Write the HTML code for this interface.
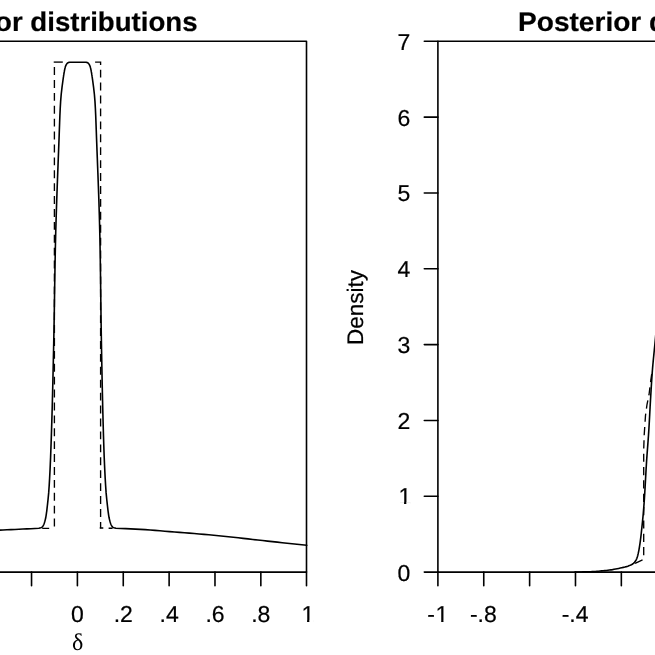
<!DOCTYPE html>
<html>
<head>
<meta charset="utf-8">
<title>Prior and posterior distributions</title>
<style>
html, body { margin: 0; padding: 0; background: #fff; }
body { width: 655px; height: 655px; overflow: hidden; font-family: "Liberation Sans", sans-serif; }
svg { display: block; filter: grayscale(1); text-rendering: geometricPrecision; }
</style>
</head>
<body>
<svg width="655" height="655" viewBox="0 0 655 655">
<rect x="0" y="0" width="655" height="655" fill="#fff"/>
<g fill="none" stroke="#000" stroke-width="1.60" stroke-linecap="round" stroke-linejoin="round">
<path d="M-5,41.30 H306.50 V572.10 H-5"/>
<path d="M31.54,572.10 V585.70"/>
<path d="M77.40,572.10 V585.70"/>
<path d="M123.26,572.10 V585.70"/>
<path d="M169.12,572.10 V585.70"/>
<path d="M214.98,572.10 V585.70"/>
<path d="M260.84,572.10 V585.70"/>
<path d="M306.50,572.10 V585.70"/>
<path d="M660,41.30 H437.90 V572.10 H660"/>
<path d="M424.30,572.10 H437.90"/>
<path d="M424.30,496.27 H437.90"/>
<path d="M424.30,420.44 H437.90"/>
<path d="M424.30,344.61 H437.90"/>
<path d="M424.30,268.79 H437.90"/>
<path d="M424.30,192.96 H437.90"/>
<path d="M424.30,117.13 H437.90"/>
<path d="M424.30,41.30 H437.90"/>
<path d="M437.90,572.10 V585.70"/>
<path d="M483.76,572.10 V585.70"/>
<path d="M529.62,572.10 V585.70"/>
<path d="M575.48,572.10 V585.70"/>
<path d="M621.34,572.10 V585.70"/>
</g>
<g fill="none" stroke="#000" stroke-width="1.60" stroke-linejoin="round" stroke-linecap="round">
<path d="M-5.00,530.30 L-1.01,530.13 L2.98,529.96 L6.97,529.79 L10.96,529.61 L14.95,529.43 L18.95,529.25 L22.94,529.06 L26.93,528.88 L30.92,528.69 L34.91,528.50 L38.90,528.30 L38.90,528.30 L40.80,527.82 L41.72,527.34 L42.32,526.86 L42.74,526.38 L43.07,525.90 L43.35,525.42 L43.59,524.94 L43.80,524.46 L43.99,523.98 L44.16,523.50 L44.33,523.02 L44.48,522.54 L44.63,522.06 L44.78,521.58 L44.91,521.11 L45.04,520.63 L45.17,520.15 L45.29,519.67 L45.40,519.19 L45.51,518.71 L45.61,518.23 L45.70,517.75 L45.80,517.27 L45.88,516.79 L45.97,516.31 L46.05,515.83 L46.13,515.35 L46.20,514.87 L46.28,514.39 L46.35,513.91 L46.42,513.43 L46.48,512.95 L46.55,512.47 L46.61,511.99 L46.68,511.51 L46.74,511.03 L46.80,510.55 L46.85,510.07 L46.91,509.59 L46.97,509.11 L47.02,508.63 L47.08,508.15 L47.13,507.67 L47.19,507.19 L47.24,506.72 L47.29,506.24 L47.35,505.76 L47.40,505.28 L47.46,504.80 L47.51,504.32 L47.57,503.84 L47.62,503.36 L47.67,502.88 L47.73,502.40 L47.78,501.92 L47.83,501.44 L47.89,500.96 L47.94,500.48 L47.99,500.00 L48.68,492.88 L49.17,485.76 L49.59,478.64 L49.96,471.53 L50.29,464.41 L50.59,457.29 L50.85,450.17 L51.11,443.05 L51.35,435.93 L51.58,428.81 L51.80,421.69 L52.01,414.58 L52.21,407.46 L52.40,400.34 L52.58,393.22 L52.76,386.10 L52.93,378.98 L53.09,371.86 L53.25,364.75 L53.40,357.63 L53.56,350.51 L53.71,343.39 L53.85,336.27 L53.99,329.15 L54.12,322.03 L54.24,314.92 L54.35,307.80 L54.46,300.68 L54.57,293.56 L54.68,286.44 L54.79,279.32 L54.91,272.20 L55.03,265.08 L55.16,257.97 L55.30,250.85 L55.45,243.73 L55.62,236.61 L55.80,229.49 L56.01,222.37 L56.23,215.25 L56.46,208.14 L56.71,201.02 L56.95,193.90 L57.21,186.78 L57.47,179.66 L57.74,172.54 L58.02,165.42 L58.29,158.31 L58.57,151.19 L58.84,144.07 L59.11,136.95 L59.36,129.83 L59.62,122.71 L59.89,115.59 L60.22,108.47 L60.63,101.36 L61.22,94.24 L62.04,87.12 L63.00,80.00 L63.04,79.70 L63.08,79.40 L63.12,79.10 L63.17,78.80 L63.21,78.50 L63.25,78.20 L63.29,77.90 L63.33,77.60 L63.38,77.30 L63.42,77.00 L63.46,76.70 L63.51,76.40 L63.55,76.10 L63.60,75.80 L63.64,75.50 L63.69,75.20 L63.74,74.90 L63.78,74.60 L63.83,74.30 L63.88,74.00 L63.93,73.70 L63.98,73.40 L64.03,73.10 L64.08,72.80 L64.13,72.50 L64.18,72.20 L64.24,71.90 L64.29,71.60 L64.35,71.30 L64.40,71.00 L64.46,70.70 L64.52,70.40 L64.58,70.10 L64.64,69.80 L64.70,69.50 L64.76,69.20 L64.82,68.90 L64.89,68.60 L64.95,68.30 L65.03,68.00 L65.10,67.70 L65.18,67.40 L65.27,67.10 L65.36,66.80 L65.46,66.50 L65.57,66.20 L65.69,65.90 L65.82,65.60 L65.95,65.30 L66.10,65.00 L66.26,64.70 L66.43,64.40 L66.63,64.10 L66.85,63.80 L67.10,63.50 L67.36,63.20 L67.69,62.90 L68.20,62.60 L69.50,62.30 L86.10,62.30 L87.40,62.60 L87.91,62.90 L88.24,63.20 L88.50,63.50 L88.75,63.80 L88.97,64.10 L89.17,64.40 L89.34,64.70 L89.50,65.00 L89.65,65.30 L89.78,65.60 L89.91,65.90 L90.03,66.20 L90.14,66.50 L90.24,66.80 L90.33,67.10 L90.42,67.40 L90.50,67.70 L90.57,68.00 L90.65,68.30 L90.71,68.60 L90.78,68.90 L90.84,69.20 L90.90,69.50 L90.96,69.80 L91.02,70.10 L91.08,70.40 L91.14,70.70 L91.20,71.00 L91.25,71.30 L91.31,71.60 L91.36,71.90 L91.42,72.20 L91.47,72.50 L91.52,72.80 L91.57,73.10 L91.62,73.40 L91.67,73.70 L91.72,74.00 L91.77,74.30 L91.82,74.60 L91.86,74.90 L91.91,75.20 L91.96,75.50 L92.00,75.80 L92.05,76.10 L92.09,76.40 L92.14,76.70 L92.18,77.00 L92.22,77.30 L92.27,77.60 L92.31,77.90 L92.35,78.20 L92.39,78.50 L92.43,78.80 L92.48,79.10 L92.52,79.40 L92.56,79.70 L92.60,80.00 L93.56,87.12 L94.38,94.24 L94.97,101.36 L95.38,108.47 L95.71,115.59 L95.98,122.71 L96.24,129.83 L96.49,136.95 L96.76,144.07 L97.03,151.19 L97.31,158.31 L97.58,165.42 L97.86,172.54 L98.13,179.66 L98.39,186.78 L98.65,193.90 L98.89,201.02 L99.11,208.14 L99.33,215.25 L99.52,222.37 L99.70,229.49 L99.87,236.61 L100.01,243.73 L100.14,250.85 L100.26,257.97 L100.36,265.08 L100.46,272.20 L100.56,279.32 L100.64,286.44 L100.73,293.56 L100.82,300.68 L100.91,307.80 L101.00,314.92 L101.09,322.03 L101.20,329.15 L101.31,336.27 L101.44,343.39 L101.56,350.51 L101.69,357.63 L101.82,364.75 L101.96,371.86 L102.10,378.98 L102.24,386.10 L102.40,393.22 L102.56,400.34 L102.72,407.46 L102.90,414.58 L103.09,421.69 L103.28,428.81 L103.49,435.93 L103.71,443.05 L103.95,450.17 L104.21,457.29 L104.51,464.41 L104.84,471.53 L105.21,478.64 L105.63,485.76 L106.12,492.88 L106.81,500.00 L106.86,500.48 L106.91,500.96 L106.97,501.44 L107.02,501.92 L107.07,502.40 L107.13,502.88 L107.18,503.36 L107.23,503.84 L107.29,504.32 L107.34,504.80 L107.40,505.28 L107.45,505.76 L107.51,506.24 L107.56,506.72 L107.61,507.19 L107.67,507.67 L107.72,508.15 L107.78,508.63 L107.83,509.11 L107.89,509.59 L107.95,510.07 L108.00,510.55 L108.06,511.03 L108.12,511.51 L108.19,511.99 L108.25,512.47 L108.32,512.95 L108.38,513.43 L108.45,513.91 L108.52,514.39 L108.60,514.87 L108.67,515.35 L108.75,515.83 L108.83,516.31 L108.92,516.79 L109.00,517.27 L109.10,517.75 L109.19,518.23 L109.29,518.71 L109.40,519.19 L109.51,519.67 L109.63,520.15 L109.76,520.63 L109.89,521.11 L110.02,521.58 L110.17,522.06 L110.32,522.54 L110.47,523.02 L110.64,523.50 L110.81,523.98 L111.00,524.46 L111.21,524.94 L111.45,525.42 L111.73,525.90 L112.06,526.38 L112.48,526.86 L113.08,527.34 L114.00,527.82 L115.90,528.30 L115.90,528.30 L120.79,528.46 L125.68,528.65 L130.58,528.87 L135.47,529.11 L140.36,529.37 L145.25,529.67 L150.15,530.03 L155.04,530.41 L159.93,530.81 L164.82,531.21 L169.72,531.60 L174.61,531.98 L179.50,532.37 L184.39,532.75 L189.28,533.14 L194.18,533.54 L199.07,533.95 L203.96,534.37 L208.85,534.79 L213.75,535.24 L218.64,535.70 L223.53,536.19 L228.42,536.70 L233.32,537.24 L238.21,537.79 L243.10,538.35 L247.99,538.91 L252.88,539.47 L257.78,540.02 L262.67,540.56 L267.56,541.09 L272.45,541.62 L277.35,542.15 L282.24,542.68 L287.13,543.21 L292.02,543.73 L296.92,544.26 L301.81,544.78 L306.70,545.30"/>
<path d="M575.00,572.00 L576.57,572.00 L578.14,571.98 L579.71,571.96 L581.28,571.93 L582.85,571.90 L584.41,571.86 L585.98,571.82 L587.55,571.78 L589.11,571.73 L590.68,571.68 L592.25,571.61 L593.81,571.53 L595.38,571.43 L596.95,571.32 L598.51,571.20 L600.08,571.07 L601.64,570.92 L603.20,570.77 L604.76,570.60 L606.32,570.44 L607.88,570.26 L609.43,570.07 L610.98,569.85 L612.53,569.61 L614.08,569.33 L615.62,569.04 L617.16,568.73 L618.70,568.41 L620.23,568.08 L621.76,567.75 L623.31,567.40 L624.84,567.03 L626.36,566.62 L627.84,566.16 L629.32,565.62 L630.82,564.99 L632.25,564.25 L633.48,563.40 L634.54,562.34 L635.49,561.04 L636.29,559.61 L636.89,558.20 L637.38,556.73 L637.80,555.21 L638.17,553.66 L638.50,552.11 L638.81,550.57 L639.09,549.03 L639.36,547.49 L639.61,545.94 L639.85,544.38 L640.07,542.83 L640.28,541.27 L640.49,539.72 L640.69,538.16 L640.87,536.61 L641.05,535.05 L641.23,533.49 L641.40,531.93 L641.57,530.37 L641.73,528.81 L641.90,527.25 L642.07,525.69 L642.24,524.13 L642.40,522.57 L642.56,521.01 L642.71,519.45 L642.86,517.89 L643.01,516.33 L643.15,514.77 L643.29,513.20 L643.42,511.64 L643.55,510.08 L643.68,508.51 L643.80,506.95 L643.92,505.39 L644.04,503.82 L644.15,502.26 L644.26,500.70 L644.37,499.13 L644.47,497.57 L644.57,496.00 L644.67,494.44 L644.76,492.87 L644.85,491.30 L644.95,489.74 L645.04,488.17 L645.13,486.61 L645.21,485.04 L645.30,483.48 L645.39,481.91 L645.47,480.34 L645.56,478.78 L645.65,477.21 L645.73,475.64 L645.82,474.08 L645.91,472.51 L646.00,470.95 L646.09,469.38 L646.18,467.81 L646.28,466.25 L646.37,464.68 L646.47,463.12 L646.57,461.55 L646.67,459.99 L646.78,458.42 L646.89,456.86 L647.00,455.29 L647.12,453.73 L647.23,452.17 L647.35,450.60 L647.47,449.04 L647.58,447.47 L647.70,445.91 L647.82,444.35 L647.94,442.78 L648.06,441.22 L648.17,439.65 L648.28,438.09 L648.40,436.53 L648.51,434.96 L648.61,433.40 L648.72,431.83 L648.81,430.27 L648.91,428.70 L649.00,427.14 L649.10,425.57 L649.19,424.00 L649.27,422.44 L649.36,420.87 L649.45,419.31 L649.53,417.74 L649.61,416.17 L649.70,414.61 L649.78,413.04 L649.86,411.48 L649.95,409.91 L650.03,408.34 L650.11,406.78 L650.20,405.21 L650.29,403.64 L650.38,402.08 L650.47,400.51 L650.56,398.95 L650.66,397.38 L650.75,395.82 L650.84,394.25 L650.93,392.68 L651.03,391.12 L651.12,389.55 L651.22,387.99 L651.31,386.42 L651.41,384.86 L651.51,383.29 L651.61,381.73 L651.71,380.16 L651.81,378.60 L651.92,377.03 L652.03,375.47 L652.14,373.90 L652.25,372.34 L652.37,370.78 L652.49,369.21 L652.62,367.65 L652.75,366.09 L652.89,364.52 L653.04,362.96 L653.18,361.40 L653.33,359.84 L653.48,358.28 L653.64,356.72 L653.79,355.16 L653.95,353.60 L654.11,352.04 L654.27,350.48 L654.42,348.91 L654.58,347.35 L654.73,345.79 L654.88,344.23 L655.03,342.67 L655.18,341.11 L655.32,339.55 L655.47,337.99 L655.62,336.42 L655.76,334.86 L655.91,333.30 L656.06,331.74 L656.20,330.18 L656.35,328.62 L656.49,327.05 L656.64,325.49 L656.79,323.93 L656.93,322.37 L657.08,320.81 L657.22,319.25 L657.37,317.69 L657.51,316.12 L657.66,314.56 L657.80,313.00"/>
</g>
<g fill="none" stroke="#000" stroke-width="1.35" stroke-linecap="butt">
<path d="M54.4,528.2 V62.1" stroke-dasharray="7.90 5.00" stroke-dashoffset="11.20"/>
<path d="M53.72,62.1 H62.8"/>
<path d="M95.1,62.1 H101.28 M100.6,62.1 V64.9"/>
<path d="M100.6,69.7 V528.2" stroke-dasharray="7.90 5.02"/>
<path d="M42.2,528.4 H49.2 M99.75,528.0 H103.3 M108.6,528.2 H112.6"/>
<path d="M634.80,563.40 L643.30,559.60 L643.70,557.00 L643.70,500.00 L643.70,450.00 L644.20,435.00 L645.50,415.50 L647.00,404.50 L649.00,395.00 L650.30,384.00 L652.00,372.00" stroke-dasharray="8.2 5.15" stroke-dashoffset="13.05"/>
</g>
<g font-family="'Liberation Sans', sans-serif" fill="#000" stroke="#000" stroke-width="0.2">
<text transform="translate(197.6,31.00) scale(1.023,1)" font-size="27.00" font-weight="bold" text-anchor="end">Prior distributions</text>
<text transform="translate(518.0,31.00) scale(1.04,1)" font-size="27.00" font-weight="bold" text-anchor="start">Posterior distributions</text>
<text x="77.40" y="622.30" font-size="23.00" text-anchor="middle">0</text>
<text x="123.26" y="622.30" font-size="23.00" text-anchor="middle">.2</text>
<text x="169.12" y="622.30" font-size="23.00" text-anchor="middle">.4</text>
<text x="214.98" y="622.30" font-size="23.00" text-anchor="middle">.6</text>
<text x="260.84" y="622.30" font-size="23.00" text-anchor="middle">.8</text>
<text x="307.80" y="622.30" font-size="23.00" text-anchor="middle">1</text>
<text x="427.27" y="622.30" font-size="23.00" text-anchor="start">-</text>
<text x="435.53" y="622.30" font-size="23.00" text-anchor="start">1</text>
<text x="483.36" y="622.30" font-size="23.00" text-anchor="middle">-.8</text>
<text x="575.08" y="622.30" font-size="23.00" text-anchor="middle">-.4</text>
<text x="404.00" y="580.55" font-size="23.00" text-anchor="middle">0</text>
<text x="404.80" y="504.42" font-size="23.00" text-anchor="middle">1</text>
<text x="404.00" y="428.89" font-size="23.00" text-anchor="middle">2</text>
<text x="404.00" y="353.06" font-size="23.00" text-anchor="middle">3</text>
<text x="404.00" y="277.24" font-size="23.00" text-anchor="middle">4</text>
<text x="404.00" y="201.41" font-size="23.00" text-anchor="middle">5</text>
<text x="404.00" y="125.58" font-size="23.00" text-anchor="middle">6</text>
<text x="404.00" y="49.75" font-size="23.00" text-anchor="middle">7</text>
<text transform="translate(363.0,307.5) rotate(-90)" font-size="22.50" text-anchor="middle">Density</text>
</g>
<g fill="#fff" stroke="none"><rect x="302.40" y="619.95" width="4.66" height="3.0"/><rect x="309.34" y="619.95" width="4.60" height="3.0"/><rect x="436.53" y="619.95" width="4.66" height="3.0"/><rect x="443.47" y="619.95" width="4.60" height="3.0"/><rect x="399.40" y="502.07" width="4.66" height="3.0"/><rect x="406.34" y="502.07" width="4.60" height="3.0"/></g>
<text x="77.6" y="650.0" font-family="'Liberation Serif', serif" font-size="24" text-anchor="middle" fill="#000">&#948;</text>
</svg>
</body>
</html>
